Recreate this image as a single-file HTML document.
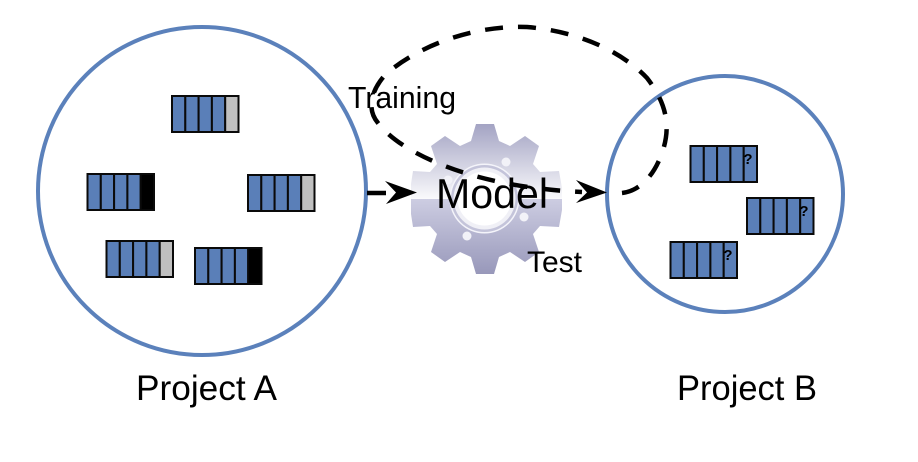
<!DOCTYPE html>
<html><head><meta charset="utf-8">
<style>html,body{margin:0;padding:0;background:#fff;width:918px;height:462px;overflow:hidden}svg{display:block}text{font-family:"Liberation Sans",sans-serif;fill:#000}</style>
</head><body>
<svg width="918" height="462" viewBox="0 0 918 462" xmlns="http://www.w3.org/2000/svg">
<defs>
<linearGradient id="gt" gradientUnits="userSpaceOnUse" x1="0" y1="124" x2="0" y2="199"><stop offset="0" stop-color="#a3a3c3"/><stop offset="1" stop-color="#fafafc"/></linearGradient>
<linearGradient id="gb" gradientUnits="userSpaceOnUse" x1="0" y1="199" x2="0" y2="274"><stop offset="0" stop-color="#cdcde2"/><stop offset="1" stop-color="#9898ba"/></linearGradient>
<clipPath id="ct"><rect x="400" y="120" width="175" height="79"/></clipPath>
<clipPath id="cb"><rect x="400" y="199" width="175" height="80"/></clipPath>
<path id="gear" d="M476,124 L494,124 L499,141 L510,146 L525,136 L539,146 L533,164 L540,172 L559,171 L562,188 L562,210 L559,227 L540,226 L533,234 L539,252 L525,262 L510,252 L499,257 L494,274 L476,274 L471,257 L460,252 L445,262 L431,252 L437,234 L430,226 L413,227 L411,214 L411,184 L413,171 L430,172 L437,164 L431,146 L445,136 L460,146 L471,141 Z"/>
</defs>
<circle cx="202" cy="191" r="164" fill="#fff" stroke="#5b81bb" stroke-width="4"/>
<circle cx="725" cy="194" r="118" fill="#fff" stroke="#5b81bb" stroke-width="4"/>

<g>
<use href="#gear" fill="url(#gt)" clip-path="url(#ct)"/>
<use href="#gear" fill="url(#gb)" clip-path="url(#cb)"/>
<circle cx="484.5" cy="198.5" r="35" fill="#f4f4fa"/>
<circle cx="484.5" cy="198.5" r="33.500" fill="#c4c4da"/>
<circle cx="484.5" cy="198.5" r="31" fill="#f0f0f6"/>
<circle cx="484.5" cy="198.5" r="27" fill="#fff"/>
<circle cx="506" cy="162" r="4.5" fill="#f2f2f8"/>
<circle cx="524" cy="217" r="4.5" fill="#f2f2f8"/>
<circle cx="467" cy="236" r="4.5" fill="#f2f2f8"/>
<circle cx="448" cy="180" r="4.5" fill="#f2f2f8"/>
</g>

<!-- bars -->
<g stroke="#0a0a0a" stroke-width="2">
<g transform="translate(172,96)"><rect width="13.3" height="36" fill="#5a7fb8"/><rect x="13.3" width="13.3" height="36" fill="#5a7fb8"/><rect x="26.6" width="13.3" height="36" fill="#5a7fb8"/><rect x="39.9" width="13.3" height="36" fill="#5a7fb8"/><rect x="53.2" width="13.3" height="36" fill="#c0c0c0"/></g>
<g transform="translate(87.5,174)"><rect width="13.3" height="36" fill="#5a7fb8"/><rect x="13.3" width="13.3" height="36" fill="#5a7fb8"/><rect x="26.6" width="13.3" height="36" fill="#5a7fb8"/><rect x="39.9" width="13.3" height="36" fill="#5a7fb8"/><rect x="53.2" width="13.3" height="36" fill="#000"/></g>
<g transform="translate(248,175)"><rect width="13.3" height="36" fill="#5a7fb8"/><rect x="13.3" width="13.3" height="36" fill="#5a7fb8"/><rect x="26.6" width="13.3" height="36" fill="#5a7fb8"/><rect x="39.9" width="13.3" height="36" fill="#5a7fb8"/><rect x="53.2" width="13.3" height="36" fill="#c0c0c0"/></g>
<g transform="translate(106.500,241)"><rect width="13.3" height="36" fill="#5a7fb8"/><rect x="13.3" width="13.3" height="36" fill="#5a7fb8"/><rect x="26.6" width="13.3" height="36" fill="#5a7fb8"/><rect x="39.9" width="13.3" height="36" fill="#5a7fb8"/><rect x="53.2" width="13.3" height="36" fill="#c0c0c0"/></g>
<g transform="translate(195,248)"><rect width="13.3" height="36" fill="#5a7fb8"/><rect x="13.3" width="13.3" height="36" fill="#5a7fb8"/><rect x="26.6" width="13.3" height="36" fill="#5a7fb8"/><rect x="39.9" width="13.3" height="36" fill="#5a7fb8"/><rect x="53.2" width="13.3" height="36" fill="#000"/></g>
<g transform="translate(690.500,146)"><rect width="13.3" height="36" fill="#5a7fb8"/><rect x="13.3" width="13.3" height="36" fill="#5a7fb8"/><rect x="26.6" width="13.3" height="36" fill="#5a7fb8"/><rect x="39.9" width="13.3" height="36" fill="#5a7fb8"/><rect x="53.2" width="13.3" height="36" fill="#5a7fb8"/></g>
<g transform="translate(747,198)"><rect width="13.3" height="36" fill="#5a7fb8"/><rect x="13.3" width="13.3" height="36" fill="#5a7fb8"/><rect x="26.6" width="13.3" height="36" fill="#5a7fb8"/><rect x="39.9" width="13.3" height="36" fill="#5a7fb8"/><rect x="53.2" width="13.3" height="36" fill="#5a7fb8"/></g>
<g transform="translate(670.500,242)"><rect width="13.3" height="36" fill="#5a7fb8"/><rect x="13.3" width="13.3" height="36" fill="#5a7fb8"/><rect x="26.6" width="13.3" height="36" fill="#5a7fb8"/><rect x="39.9" width="13.3" height="36" fill="#5a7fb8"/><rect x="53.2" width="13.3" height="36" fill="#5a7fb8"/></g>
</g>
<g font-size="15" font-weight="bold" text-anchor="middle">
<text x="748" y="164">?</text>
<text x="804" y="216">?</text>
<text x="728" y="260">?</text>
</g>

<!-- dashed loop -->
<path d="M622,193 C640,191 655,175 663,150 C670,128 668,105 647,78 C625,55 585,32 527,27 C470,25 415,48 385,75 C370,92 367,110 378,123 C395,145 430,162 465,173 C500,184 540,190 582,192" fill="none" stroke="#000" stroke-width="4.500" stroke-dasharray="18 15"/>
<path d="M367,193 L386,193" fill="none" stroke="#000" stroke-width="4.500"/>
<path d="M385,181 L417,192.500 L386,204 L396,192.500 Z" fill="#000"/>
<path d="M576,180 L607,192.500 L576,203 L587,192.500 Z" fill="#000"/>

<!-- labels -->
<text x="348" y="108" font-size="31" textLength="108" lengthAdjust="spacingAndGlyphs">Training</text>
<text x="436" y="208" font-size="42" textLength="112" lengthAdjust="spacingAndGlyphs">Model</text>
<text x="527" y="272" font-size="30" textLength="55" lengthAdjust="spacingAndGlyphs">Test</text>
<text x="136" y="400" font-size="35" textLength="141" lengthAdjust="spacingAndGlyphs">Project A</text>
<text x="677" y="400" font-size="35" textLength="140" lengthAdjust="spacingAndGlyphs">Project B</text>
</svg>
</body></html>
